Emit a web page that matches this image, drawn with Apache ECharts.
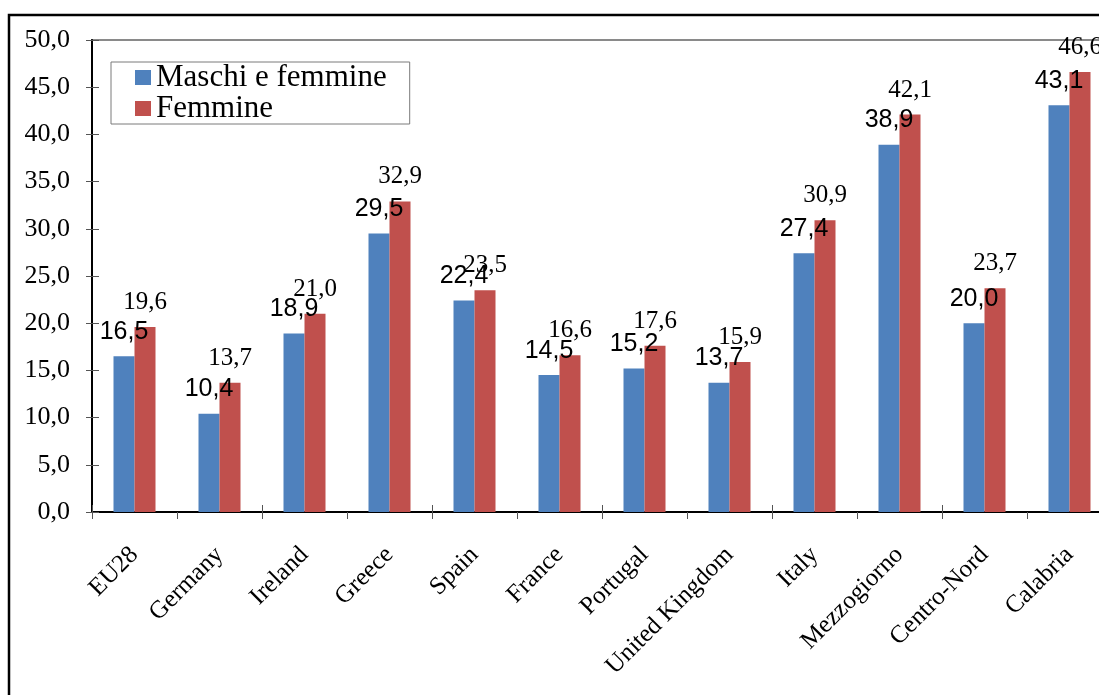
<!DOCTYPE html>
<html>
<head>
<meta charset="utf-8">
<script src="https://cdn.jsdelivr.net/npm/echarts@6/dist/echarts.min.js"></script>
<style>
  html, body { margin: 0; padding: 0; background: #fff; }
  #chart { width: 1099px; height: 695px; }
</style>
</head>
<body>
<div id="chart"></div>
<script>
const categories = ['EU28', 'Germany', 'Ireland', 'Greece', 'Spain', 'France', 'Portugal', 'United Kingdom', 'Italy', 'Mezzogiorno', 'Centro-Nord', 'Calabria']
const maschiFemmine = [16.5, 10.4, 18.9, 29.5, 22.4, 14.5, 15.2, 13.7, 27.4, 38.9, 20.0, 43.1]
const femmine = [19.6, 13.7, 21.0, 32.9, 23.5, 16.6, 17.6, 15.9, 30.9, 42.1, 23.7, 46.6]
const seriesNames = ['Maschi e femmine', 'Femmine']

const serif = '"Liberation Serif", "Times New Roman", serif'
const sans = '"Liberation Sans", Arial, sans-serif'
const fmt = (v) => v.toFixed(1).replace('.', ',')

const chart = echarts.init(document.getElementById('chart'))
chart.setOption({
  animation: false,
  graphic: [{
    type: 'rect',
    shape: { x: 9, y: 15, width: 1200, height: 800 },
    style: { fill: 'none', stroke: '#000', lineWidth: 2.5 },
    z: 100
  }],
  grid: {
    left: 92, right: -13, top: 40, bottom: 183,
    outerBoundsMode: 'none',
    containLabel: false,
    show: true, borderColor: '#8a8a8a', borderWidth: 2
  },
  legend: {
    orient: 'vertical',
    left: 111,
    top: 62,
    padding: [0, 23, 0, 24],
    itemGap: 0,
    itemWidth: 16,
    itemHeight: 15,
    borderColor: '#7a7a7a',
    borderWidth: 1,
    icon: 'rect',
    textStyle: { fontFamily: serif, fontSize: 31, color: '#000', lineHeight: 31 },
    data: seriesNames
  },
  xAxis: [{
    type: 'category',
    data: categories,
    axisLine: { lineStyle: { color: '#000', width: 2 } },
    axisTick: { show: true, length: 7, lineStyle: { color: '#555' } },
    axisLabel: { rotate: 45, margin: 39, interval: 0, fontFamily: serif, fontSize: 25, color: '#000' }
  }, {
    type: 'category',
    data: categories,
    position: 'top',
    offset: -472,
    axisLine: { show: false },
    axisTick: { show: true, length: 7, lineStyle: { color: '#555' } },
    axisLabel: { show: false }
  }],
  yAxis: [{
    type: 'value',
    min: 0,
    max: 50,
    interval: 5,
    axisLine: { show: true, lineStyle: { color: '#000', width: 2 } },
    axisTick: { show: true, length: 6, lineStyle: { color: '#555' } },
    splitLine: { show: false },
    axisLabel: { margin: 22, fontFamily: serif, fontSize: 26, color: '#000', formatter: (v) => fmt(v) }
  }, {
    type: 'value',
    min: 0,
    max: 50,
    interval: 5,
    position: 'right',
    offset: -1020,
    axisLine: { show: false },
    axisTick: { show: true, length: 7, lineStyle: { color: '#555' } },
    splitLine: { show: false },
    axisLabel: { show: false }
  }],
  series: [{
    name: seriesNames[0],
    type: 'bar',
    data: maschiFemmine,
    barWidth: 21,
    barGap: '0%',
    itemStyle: { color: '#4F81BD' },
    label: { show: true, position: 'top', distance: 12, fontFamily: sans, fontSize: 25, color: '#000', formatter: (p) => fmt(p.value) }
  }, {
    name: seriesNames[1],
    type: 'bar',
    data: femmine,
    barWidth: 21,
    barGap: '0%',
    itemStyle: { color: '#C0504D' },
    label: { show: true, position: 'top', distance: 12, fontFamily: serif, fontSize: 25, color: '#000', formatter: (p) => fmt(p.value) }
  }]
})
</script>
</body>
</html>
